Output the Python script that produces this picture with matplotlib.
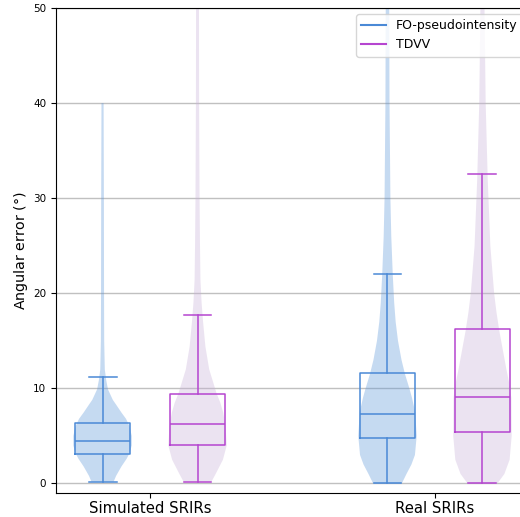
import matplotlib
matplotlib.use("Agg")
import matplotlib.pyplot as plt

groups = ["Simulated SRIRs", "Real SRIRs"]
methods = ["FO-pseudointensity", "TDVV"]

# box stats per group: [FO, TDVV]  (whislo, q1, med, q3, whishi)
sim_boxes = [(0.2, 3.05, 4.5, 6.4, 11.25), (0.2, 4.0, 6.3, 9.45, 17.75)]
real_boxes = [(0.0, 4.83, 7.35, 11.66, 22.06), (0.0, 5.46, 9.14, 16.28, 32.56)]

# violin density profiles (relative width)
sim_fo_y = [0.2, 0.8, 1.8, 2.6, 3.2, 4.0, 5.0, 6.0, 6.8, 7.45, 8.2, 8.8, 9.9, 10.9, 12, 15, 20, 30, 40]
sim_fo_d = [0.37, 0.45, 0.63, 0.8, 0.9, 0.97, 0.97, 0.9, 0.78, 0.63, 0.47, 0.34, 0.18, 0.12, 0.075, 0.055, 0.05, 0.045, 0.035]
sim_td_y = [0.2, 1, 2.5, 4, 6, 7.45, 8.5, 9.5, 11, 12, 14.4, 17, 19, 21.4, 25, 30, 40, 50, 55]
sim_td_d = [0.48, 0.62, 0.87, 1.0, 0.96, 0.88, 0.78, 0.65, 0.5, 0.4, 0.27, 0.19, 0.14, 0.1, 0.085, 0.07, 0.055, 0.05, 0.05]
real_fo_y = [0, 1, 2, 3, 5, 7.5, 9, 10, 11.5, 13, 15, 17, 19, 22, 26, 30, 40, 50, 55]
real_fo_d = [0.49, 0.65, 0.82, 0.94, 1.0, 0.95, 0.84, 0.75, 0.6, 0.48, 0.36, 0.28, 0.23, 0.18, 0.13, 0.1, 0.07, 0.06, 0.06]
real_td_y = [0, 1, 2.5, 5, 9, 10.5, 12, 14, 16, 18, 20, 25, 32, 40, 50, 55]
real_td_d = [0.51, 0.75, 0.93, 1.0, 0.99, 0.92, 0.82, 0.7, 0.58, 0.48, 0.4, 0.27, 0.18, 0.11, 0.07, 0.07]

line_colors = ["#4a89d6", "#b545d0"]
fill_colors = ["#5b95d9", "#c8b0d8"]

fig = plt.figure(figsize=(5.2, 5.17), dpi=100)
ax = fig.add_axes([56 / 520, 24 / 517, 473 / 520, 485 / 517])

centers = [1, 2]
off = 1 / 6
profiles = [[(sim_fo_y, sim_fo_d), (sim_td_y, sim_td_d)],
            [(real_fo_y, real_fo_d), (real_td_y, real_td_d)]]
boxes = [sim_boxes, real_boxes]

for m in range(2):
    vstats = []
    bstats = []
    pos = []
    for g in range(2):
        ys, ds = profiles[g][m]
        lo, q1, med, q3, hi = boxes[g][m]
        vstats.append(dict(coords=ys, vals=ds, mean=med, median=med,
                           min=ys[0], max=ys[-1]))
        bstats.append(dict(whislo=lo, q1=q1, med=med, q3=q3, whishi=hi, fliers=[]))
        pos.append(centers[g] + (off if m else -off))
    parts = ax.violin(vstats, positions=pos, widths=0.205,
                      showmeans=False, showextrema=False, showmedians=False)
    for b in parts["bodies"]:
        b.set_facecolor(fill_colors[m])
        b.set_edgecolor("none")
        b.set_alpha(0.35)
    lp = dict(color=line_colors[m], linewidth=1.1)
    ax.bxp(bstats, positions=pos, widths=0.196, showfliers=False,
           boxprops=lp, medianprops=lp, whiskerprops=lp, capprops=lp,
           manage_ticks=False)
    ax.plot([], [], color=line_colors[m], label=methods[m])

ax.set_xlim(1 - 0.33, 2 + 0.33)
ax.set_ylim(-1, 50)
ax.set_xticks(centers)
ax.set_xticklabels(groups, fontsize=10.7)
ax.tick_params(axis="x", pad=2)
ax.set_yticks([0, 10, 20, 30, 40, 50])
ax.tick_params(axis="y", labelsize=7.5)
ax.set_ylabel("Angular error ($\\degree$)", fontsize=10.3, labelpad=2)
ax.yaxis.grid(True, color="#c0c0c0", linewidth=1)
ax.set_axisbelow(True)
ax.legend(loc="upper right", fontsize=9)

fig.savefig("out.png", dpi=100)
